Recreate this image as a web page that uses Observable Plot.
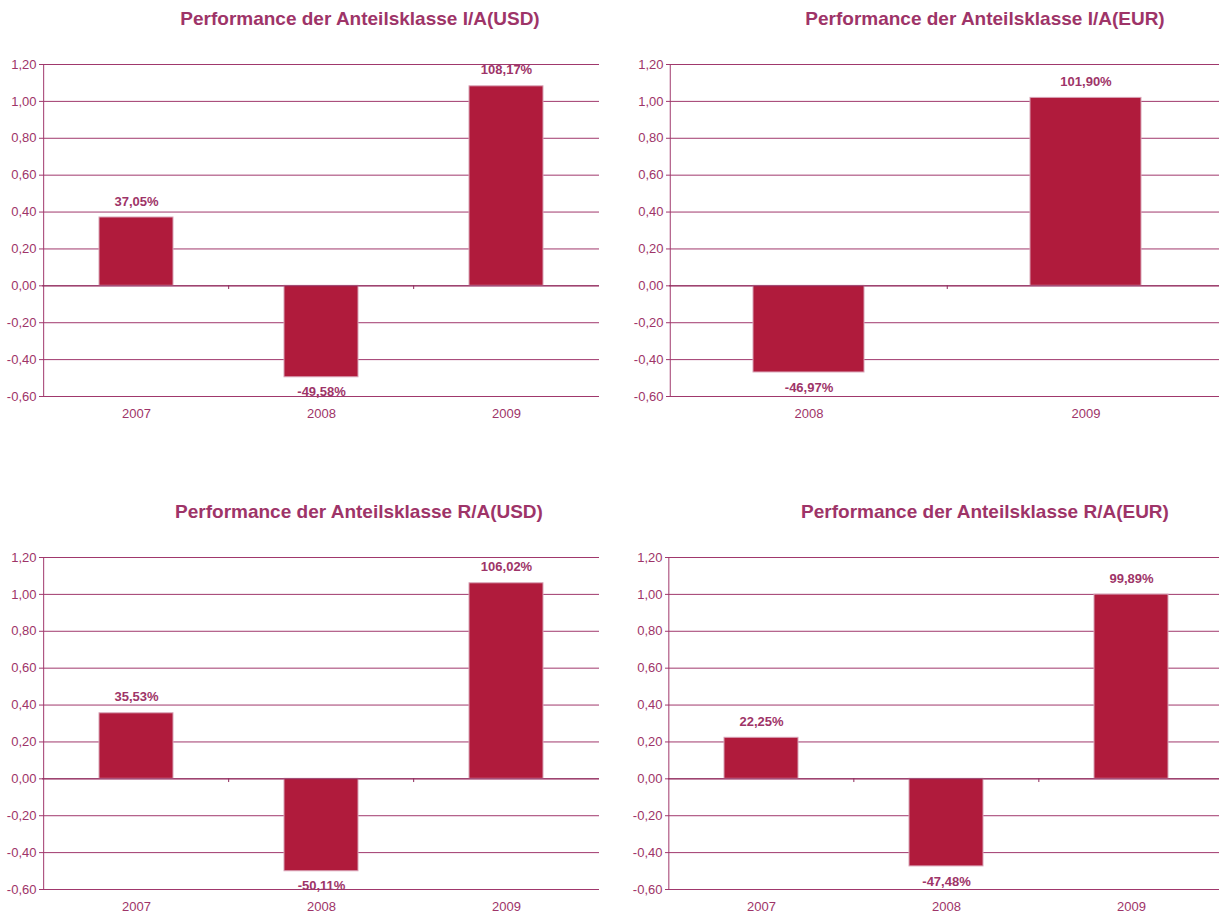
<!DOCTYPE html>
<html>
<head>
<meta charset="utf-8">
<script src="https://cdn.jsdelivr.net/npm/d3@7"></script>
<script src="https://cdn.jsdelivr.net/npm/@observablehq/plot@0.6"></script>
<style>
  html, body { margin: 0; padding: 0; background: #fff; }
  #page { position: relative; width: 1219px; height: 915px; overflow: hidden; font-family: "Liberation Sans", Arial, sans-serif; }
  .title { position: absolute; width: 600px; text-align: center; font-weight: bold; font-size: 19px; line-height: 22px; color: #9e3468; white-space: nowrap; }
  .panel { position: absolute; }
  .panel svg { overflow: visible; max-width: none !important; display: block; }
</style>
</head>
<body>
<div id="page"></div>
<script>
// Performance per share class, in percent
const yearsIAUSD = ["2007", "2008", "2009"];
const valuesIAUSD = [37.05, -49.58, 108.17];

const yearsIAEUR = ["2008", "2009"];
const valuesIAEUR = [-46.97, 101.90];

const yearsRAUSD = ["2007", "2008", "2009"];
const valuesRAUSD = [35.53, -50.11, 106.02];

const yearsRAEUR = ["2007", "2008", "2009"];
const valuesRAEUR = [22.25, -47.48, 99.89];

const titles = [
  "Performance der Anteilsklasse I/A(USD)",
  "Performance der Anteilsklasse I/A(EUR)",
  "Performance der Anteilsklasse R/A(USD)",
  "Performance der Anteilsklasse R/A(EUR)"
];

// y-axis ticks (fraction of 1)
const yTicks = [-0.6, -0.4, -0.2, 0, 0.2, 0.4, 0.6, 0.8, 1.0, 1.2];

const lineColor = "#a0386c";
const zeroColor = "#8e2a5c";
const textColor = "#9e3468";
const barFill = "#b01b3c";
const barStroke = "#d8a3b6";
const fontFamily = "'Liberation Sans', Arial, sans-serif";

const comma = (v, digits) => v.toFixed(digits).replace(".", ",");

function panel(cats, vals, width, ml, mr) {
  const step = (width - ml - mr) / cats.length;
  const rows = cats.map((c, i) => ({year: c, pct: vals[i], value: vals[i] / 100}));
  const label = d => comma(d.pct, 2) + "%";
  return Plot.plot({
    width,
    height: 390,
    marginLeft: ml,
    marginRight: mr,
    marginTop: 24,
    marginBottom: 34,
    style: {fontFamily, fontSize: "13px", color: textColor, background: "transparent", overflow: "visible", maxWidth: "none"},
    x: {domain: cats, paddingInner: 0.6, paddingOuter: 0.3, label: null},
    y: {domain: [-0.6, 1.2], label: null},
    marks: [
      Plot.ruleY(yTicks, {stroke: lineColor, strokeWidth: 1}),
      Plot.ruleX([cats[0]], {dx: -step / 2, stroke: lineColor, strokeWidth: 1}),
      Plot.barY(rows, {x: "year", y: "value", fill: barFill, stroke: barStroke, strokeWidth: 1}),
      Plot.ruleY([0], {stroke: zeroColor, strokeWidth: 1}),
      Plot.ruleX(cats.slice(1), {dx: -step / 2, y1: 0, y2: -0.02, stroke: zeroColor, strokeWidth: 1}),
      Plot.axisY(yTicks, {tickSize: 3, tickPadding: 3, tickFormat: d => comma(d, 2), stroke: lineColor, fill: textColor, fontSize: 13, label: null}),
      Plot.axisX({tickSize: 0, tickPadding: 12, fill: textColor, fontSize: 13, label: null}),
      Plot.text(rows.filter(d => d.value >= 0), {x: "year", y: "value", text: label, dy: -16, fill: textColor, fontWeight: "bold", fontSize: 13}),
      Plot.text(rows.filter(d => d.value < 0), {x: "year", y: "value", text: label, dy: 15, fill: textColor, fontWeight: "bold", fontSize: 13})
    ]
  });
}

const page = document.getElementById("page");

function place(node, left, top, width) {
  const wrap = document.createElement("div");
  wrap.className = "panel";
  wrap.style.left = left + "px";
  wrap.style.top = top + "px";
  wrap.style.width = width + "px";
  wrap.style.height = "390px";
  wrap.appendChild(node);
  page.appendChild(wrap);
}

function addTitle(text, cx, cy) {
  const t = document.createElement("div");
  t.className = "title";
  t.textContent = text;
  t.style.left = (cx - 300) + "px";
  t.style.top = (cy - 11) + "px";
  page.appendChild(t);
}

addTitle(titles[0], 360, 19);
addTitle(titles[1], 985, 19);
addTitle(titles[2], 359, 512);
addTitle(titles[3], 985, 512);

place(panel(yearsIAUSD, valuesIAUSD, 610, 42, 11), 0, 40, 610);
place(panel(yearsIAEUR, valuesIAEUR, 614, 59, 0), 610, 40, 614);
place(panel(yearsRAUSD, valuesRAUSD, 610, 42, 11), 0, 533, 610);
place(panel(yearsRAEUR, valuesRAEUR, 614, 58, 0), 610, 533, 614);
</script>
</body>
</html>
